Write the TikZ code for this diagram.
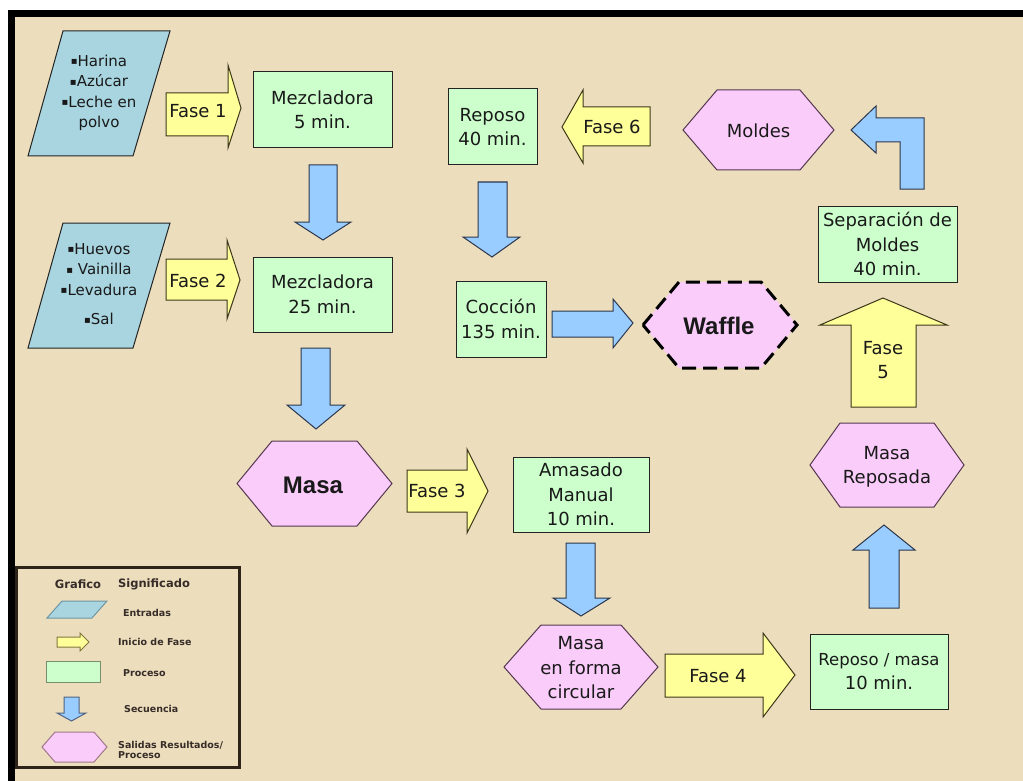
\documentclass[tikz,border=0pt]{standalone}
\usepackage{fontspec}
\setmainfont{DejaVu Sans}
\newfontfamily\arialb{Liberation Sans}
\definecolor{bgc}{RGB}{236,221,189}
\definecolor{inblue}{RGB}{168,213,224}
\definecolor{fyellow}{RGB}{255,255,153}
\definecolor{pgreen}{RGB}{204,255,204}
\definecolor{sblue}{RGB}{153,204,255}
\definecolor{hpink}{RGB}{250,204,250}
\definecolor{boxline}{RGB}{35,35,35}
\definecolor{yline}{RGB}{60,55,25}
\definecolor{bline}{RGB}{45,55,75}
\definecolor{hline}{RGB}{85,55,80}
\definecolor{txt}{RGB}{25,25,25}
\definecolor{lgtxt}{RGB}{55,45,40}
\definecolor{lgframe}{RGB}{45,35,25}
\definecolor{lgblue}{RGB}{110,150,165}
\definecolor{lgyel}{RGB}{130,120,60}
\definecolor{lggreen}{RGB}{120,140,110}
\definecolor{lgbarr}{RGB}{80,100,130}
\definecolor{lgpink}{RGB}{160,120,140}
\newcommand\hexa[6]{\draw[#6] (#1-#3,#2) -- (#1-#4,#2-#5) -- (#1+#4,#2-#5) -- (#1+#3,#2) -- (#1+#4,#2+#5) -- (#1-#4,#2+#5) -- cycle;}
\newcommand\bul{\raisebox{1.5pt}{\fontsize{10}{10}\selectfont ▪}}
\tikzset{
  proc/.style={draw=boxline, fill=pgreen, line width=1pt, align=center, inner sep=0pt, text=txt, font=\fontsize{18}{24.5}\selectfont},
  yarr/.style={draw=yline, fill=fyellow, line width=1pt},
  barr/.style={draw=bline, fill=sblue, line width=1pt},
  hexs/.style={draw=hline, fill=hpink, line width=1pt},
  inp/.style={draw=boxline, fill=inblue, line width=1pt},
  lbl/.style={text=txt, font=\fontsize{18}{24.5}\selectfont, align=center, inner sep=0pt},
  inlbl/.style={text=txt, font=\fontsize{15}{20.5}\selectfont, align=center, inner sep=0pt},
  bigl/.style={text=txt, font=\arialb\bfseries\fontsize{24}{26}\selectfont, inner sep=0pt},
  lgt/.style={text=lgtxt, font=\bfseries\fontsize{9.5}{10}\selectfont, anchor=west, inner sep=0pt, align=left},
}
\begin{document}
\begin{tikzpicture}[x=1pt,y=-1pt]
\useasboundingbox (0,0) rectangle (1023,781);
% background and frame
\fill[white] (0,0) rectangle (1023,781);
\fill[bgc] (8,10) rectangle (1023,781);
\fill[black] (8,10) rectangle (1023,17);
\fill[black] (8,10) rectangle (15,781);

% inputs
\draw[inp] (28,156) -- (133,156) -- (170,31) -- (63,31) -- cycle;
\node[inlbl] (in1) at (99,93) {\bul Harina\\\bul Azúcar\\\bul Leche en\\polvo};
\draw[inp] (28,348) -- (133,348) -- (170,223) -- (63,223) -- cycle;
\node[inlbl] (in2) at (99,284) {\bul Huevos\\\bul{} Vainilla\\\bul Levadura\\[9pt]\bul Sal};

% Fase 1 and 2
\draw[yarr] (166,93) -- (228,93) -- (228,65) -- (241,108) -- (228,148) -- (228,136) -- (166,136) -- cycle;
\node[lbl] (fase1) at (198,111) {Fase 1};
\draw[yarr] (166,259) -- (227,259) -- (227,240) -- (240,280) -- (227,319) -- (227,300) -- (166,300) -- cycle;
\node[lbl] (fase2) at (198,281) {Fase 2};

% Mezcladoras
\node[proc, minimum width=139pt, minimum height=76pt] (mez1) at (322.5,110) {Mezcladora\\5 min.};
\node[proc, minimum width=139pt, minimum height=75pt] (mez2) at (322.5,294.5) {Mezcladora\\25 min.};
\draw[barr] (309,165) -- (337,165) -- (337,222) -- (351,222) -- (323,240) -- (295,222) -- (309,222) -- cycle;
\draw[barr] (301,348) -- (330,348) -- (330,405) -- (345,405) -- (316,429) -- (287,405) -- (301,405) -- cycle;

% Masa
\hexa{314.5}{483.5}{77.5}{42.5}{42.5}{hexs}
\node[bigl] (masa) at (313,485) {Masa};

% Fase 3
\draw[yarr] (407,470) -- (467,470) -- (467,449) -- (488,491) -- (467,533) -- (467,512) -- (407,512) -- cycle;
\node[lbl] (fase3) at (437,491) {Fase 3};
\node[proc, minimum width=136pt, minimum height=75pt] (amas) at (581,494.5) {Amasado\\Manual\\10 min.};
\draw[barr] (566,543) -- (595,543) -- (595,598) -- (610,598) -- (581,616) -- (553,598) -- (566,598) -- cycle;

% Masa en forma circular
\hexa{581}{667}{77}{40}{42}{hexs}
\node[lbl] (masac) at (581,668) {Masa\\en forma\\circular};

% Fase 4
\draw[yarr] (665,654) -- (763,654) -- (763,633) -- (795,675) -- (763,717) -- (763,697) -- (665,697) -- cycle;
\node[lbl] (fase4) at (718,676) {Fase 4};
\node[proc, minimum width=138pt, minimum height=75pt] (repm) at (879,671.5) {\fontsize{16.5}{24.5}\selectfont Reposo / masa\\10 min.};
\draw[barr] (869,608) -- (899,608) -- (899,550) -- (915,550) -- (884,525) -- (853,550) -- (869,550) -- cycle;

% Masa Reposada
\hexa{887}{465}{77}{47}{42}{hexs}
\node[lbl] (masar) at (887,467) {Masa\\Reposada};

% Fase 5
\draw[yarr] (851,407) -- (916,407) -- (916,325) -- (947,325) -- (883,298) -- (820,325) -- (851,325) -- cycle;
\node[lbl] (fase5) at (883,360) {Fase\\5};
\node[proc, minimum width=139pt, minimum height=76pt] (sep) at (887.5,244) {Separación de\\Moldes\\40 min.};

% bent arrow
\draw[barr] (900,189) -- (924,189) -- (924,118) -- (876,118) -- (876,106) -- (851,130) -- (876,153) -- (876,142) -- (900,142) -- cycle;

% Moldes
\hexa{758.5}{130}{75.5}{41.5}{40}{hexs}
\node[lbl] (moldes) at (758.5,131) {Moldes};

% Fase 6
\draw[yarr] (650,107) -- (583,107) -- (583,90) -- (562,127) -- (583,163) -- (583,146) -- (650,146) -- cycle;
\node[lbl] (fase6) at (612,127) {Fase 6};
\node[proc, minimum width=89pt, minimum height=76pt] (rep) at (492.5,127) {Reposo\\40 min.};
\draw[barr] (478,182) -- (507,182) -- (507,237) -- (520,237) -- (492,257) -- (463,237) -- (478,237) -- cycle;
\node[proc, minimum width=90pt, minimum height=76pt] (cocc) at (501,319) {Cocción\\135 min.};
\draw[barr] (552,311) -- (613,311) -- (613,299) -- (633,323) -- (613,348) -- (613,337) -- (552,337) -- cycle;

% Waffle
\hexa{720}{325}{77}{41}{43}{fill=hpink, draw=black, line width=3pt, dash pattern=on 14pt off 7pt}
\node[bigl] (waffle) at (719,326) {Waffle};

% legend
\draw[lgframe, line width=3pt] (16.5,567.5) rectangle (239.5,767.5);
\node[text=lgtxt, font=\bfseries\fontsize{11.5}{12}\selectfont, inner sep=0pt] (lgh1) at (78,584) {Grafico};
\node[text=lgtxt, font=\bfseries\fontsize{11.5}{12}\selectfont, inner sep=0pt] (lgh2) at (154,584) {Significado};
\draw[draw=lgblue, fill=inblue, line width=1pt] (47,618) -- (92,618) -- (107,601) -- (62,601) -- cycle;
\node[lgt] (lg1) at (123,613) {Entradas};
\draw[draw=lgyel, fill=fyellow, line width=1pt] (57,637) -- (80,637) -- (80,633) -- (89,642) -- (80,651) -- (80,647) -- (57,647) -- cycle;
\node[lgt] (lg2) at (118,642) {Inicio de Fase};
\draw[draw=lggreen, fill=pgreen, line width=1pt] (46,661) rectangle (100,682);
\node[lgt] (lg3) at (123,673) {Proceso};
\draw[draw=lgbarr, fill=sblue, line width=1pt] (64,697) -- (79,697) -- (79,713) -- (86,713) -- (71.5,721) -- (57,713) -- (64,713) -- cycle;
\node[lgt] (lg4) at (124,709) {Secuencia};
\hexa{74.5}{747}{32.5}{19.5}{15}{draw=lgpink, fill=hpink, line width=1pt}
\node[lgt] (lg5) at (118,750) {Salidas Resultados/\\Proceso};
\end{tikzpicture}
\end{document}
